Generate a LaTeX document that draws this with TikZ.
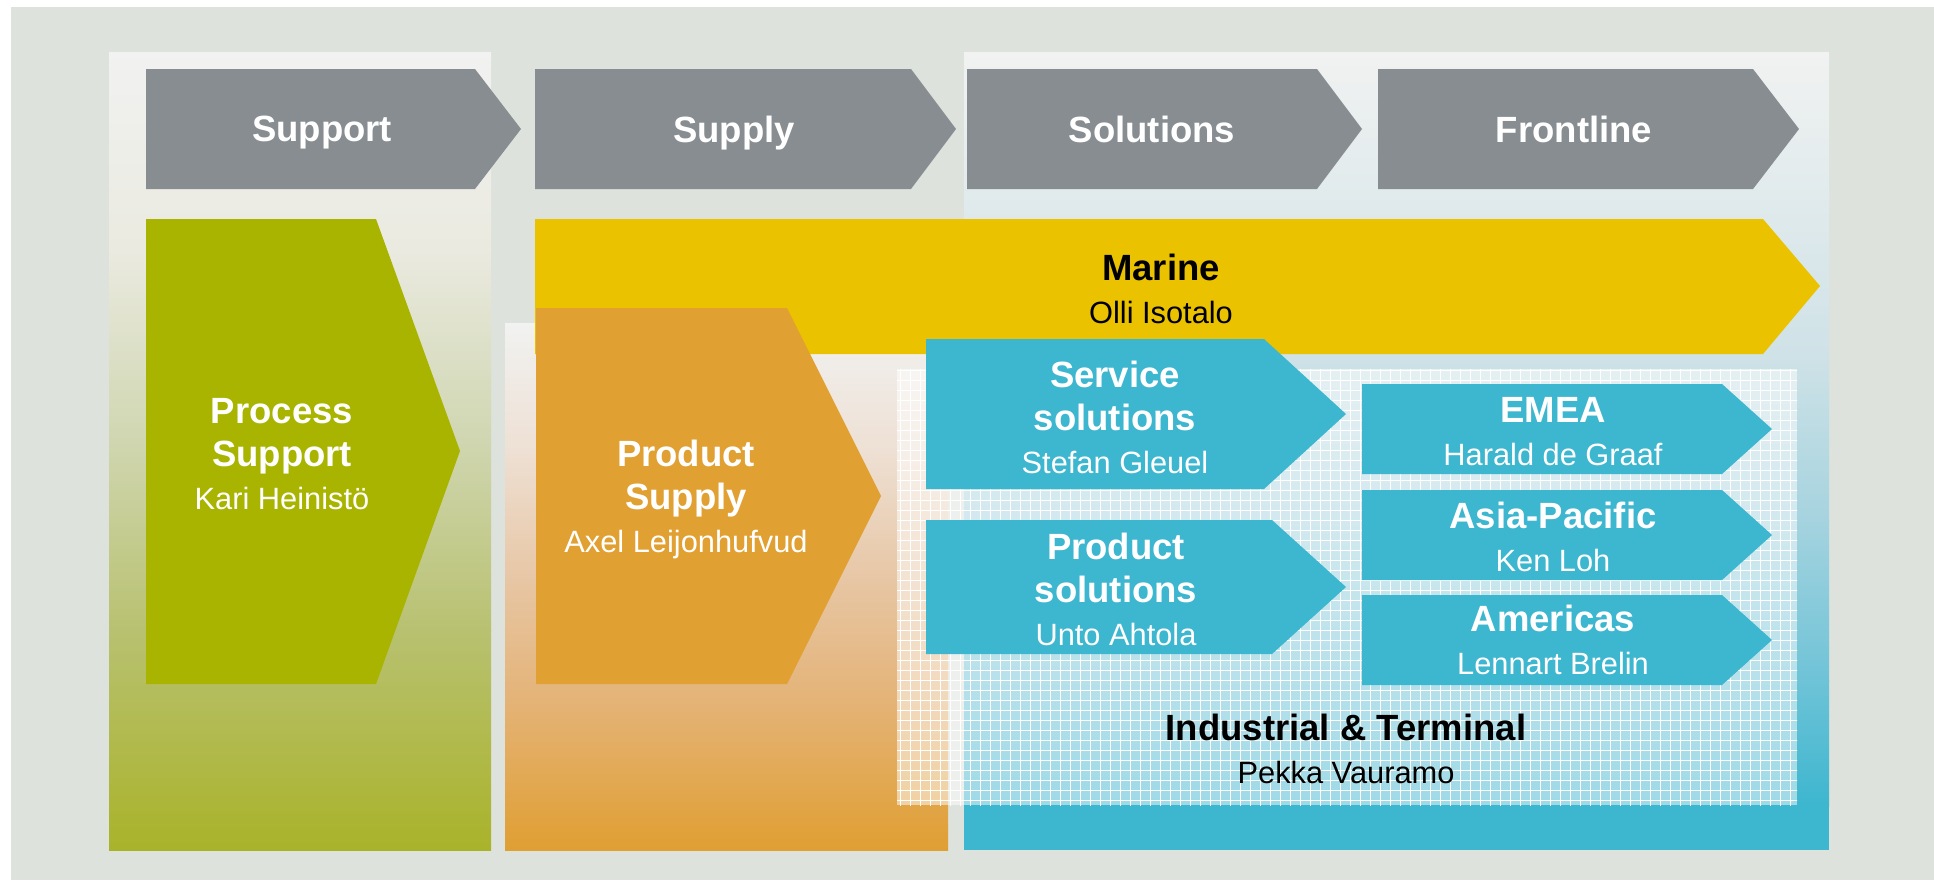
\documentclass[tikz,border=0pt]{standalone}
\usepackage{fontspec}
\setmainfont{Liberation Sans}
\usetikzlibrary{patterns}
\definecolor{bgc}{HTML}{DDE2DC}
\definecolor{chevgray}{HTML}{878D90}
\definecolor{greenc}{HTML}{A9B400}
\definecolor{orangec}{HTML}{E1A032}
\definecolor{yellowc}{HTML}{EBC200}
\definecolor{bluec}{HTML}{3DB6CF}
\definecolor{paleTop}{HTML}{F1F2F1}
\pgfdeclarepatternformonly{finegrid}{\pgfpoint{-0.5pt}{-0.5pt}}{\pgfpoint{5.5pt}{5.5pt}}{\pgfpoint{5pt}{5pt}}{%
  \pgfsetlinewidth{0.45pt}%
  \pgfpathmoveto{\pgfpoint{0pt}{0pt}}\pgfpathlineto{\pgfpoint{5pt}{0pt}}%
  \pgfpathmoveto{\pgfpoint{0pt}{0pt}}\pgfpathlineto{\pgfpoint{0pt}{5pt}}%
  \pgfusepath{stroke}}
\newcommand\headtxt[1]{{\fontsize{18.25}{21.5}\selectfont\bfseries #1}}
\tikzset{
  chevshape/.style={fill=chevgray},
  chevlabel/.style={text=white, font=\fontsize{18.25}{21.5}\selectfont\bfseries, inner sep=0pt, text depth=0pt},
  wlabel/.style={text=white, align=center, font=\fontsize{15.4}{21.5}\selectfont, inner sep=0pt},
  blabel/.style={text=black, align=center, font=\fontsize{15.4}{21.5}\selectfont, inner sep=0pt},
}
\begin{document}
\begin{tikzpicture}[x=0.5pt,y=-0.5pt]
\useasboundingbox (0,0) rectangle (1934,880);
\fill[white] (0,0) rectangle (1934,880);
\fill[bgc] (11,7) rectangle (1934,880);

% column panels (vertical gradients)
\shade[top color=paleTop, bottom color={rgb,255:red,234;green,234;blue,224}] (109,52) rectangle (491,251);
\shade[top color={rgb,255:red,234;green,234;blue,224}, bottom color={rgb,255:red,208;green,214;blue,176}] (109,250) rectangle (491,441);
\shade[top color={rgb,255:red,208;green,214;blue,176}, bottom color={rgb,255:red,184;green,193;blue,112}] (109,440) rectangle (491,631);
\shade[top color={rgb,255:red,184;green,193;blue,112}, bottom color={rgb,255:red,169;green,179;blue,42}] (109,630) rectangle (491,850);

\shade[top color=paleTop, bottom color={rgb,255:red,238;green,224;blue,212}] (505,323) rectangle (948,451);
\shade[top color={rgb,255:red,238;green,224;blue,212}, bottom color={rgb,255:red,231;green,198;blue,164}] (505,450) rectangle (948,581);
\shade[top color={rgb,255:red,231;green,198;blue,164}, bottom color={rgb,255:red,228;green,179;blue,119}] (505,580) rectangle (948,701);
\shade[top color={rgb,255:red,228;green,179;blue,119}, bottom color={rgb,255:red,224;green,159;blue,51}] (505,700) rectangle (948,850);

\shade[top color=paleTop, bottom color={rgb,255:red,207;green,226;blue,231}] (964,52) rectangle (1829,355);
\shade[top color={rgb,255:red,207;green,226;blue,231}, bottom color={rgb,255:red,165;green,211;blue,223}] (964,354) rectangle (1829,521);
\shade[top color={rgb,255:red,165;green,211;blue,223}, bottom color={rgb,255:red,110;green,195;blue,215}] (964,520) rectangle (1829,681);
\shade[top color={rgb,255:red,110;green,195;blue,215}, bottom color=bluec] (964,680) rectangle (1829,806);
\fill[bluec] (964,805) rectangle (1829,850);

% top chevrons
\fill[chevshape] (146,69) -- (475,69) -- (521,129) -- (475,189) -- (146,189) -- cycle;
\fill[chevshape] (535,69) -- (911,69) -- (956,129) -- (911,189) -- (535,189) -- cycle;
\fill[chevshape] (967,69) -- (1317,69) -- (1362,129) -- (1317,189) -- (967,189) -- cycle;
\fill[chevshape] (1378,69) -- (1753,69) -- (1799,129) -- (1753,189) -- (1378,189) -- cycle;
\node[chevlabel] (support) at (322,129) {Support};
\node[chevlabel] (supply) at (734,129) {Supply};
\node[chevlabel] (solutions) at (1152,129) {Solutions};
\node[chevlabel] (frontline) at (1574,129) {Frontline};

% process support
\fill[greenc] (146,219) -- (376,219) -- (460,451) -- (376,684) -- (146,684) -- cycle;
\node[wlabel] (process) at (282,454) {\headtxt{Process}\\\headtxt{Support}\\Kari Heinistö};

% marine
\fill[yellowc] (535,219) -- (1763,219) -- (1820,286) -- (1763,354) -- (535,354) -- cycle;
\node[blabel] (marine) at (1161,289) {\headtxt{Marine}\\Olli Isotalo};

% product supply
\fill[orangec] (536,308) -- (787,308) -- (881,496) -- (787,684) -- (536,684) -- cycle;
\node[wlabel] (prodsupply) at (686,499) {\headtxt{Product}\\\headtxt{Supply}\\Axel Leijonhufvud};

% industrial & terminal hatched area
\fill[white, fill opacity=0.5] (897,369) rectangle (1797,805);
\fill[pattern=finegrid, pattern color=white, fill opacity=0.45] (897,369) rectangle (1797,805);
\node[blabel] (industrial) at (1346,749) {\headtxt{Industrial \& Terminal}\\Pekka Vauramo};

% solutions
\fill[bluec] (926,339) -- (1264,339) -- (1346,414) -- (1264,489) -- (926,489) -- cycle;
\node[wlabel] (service) at (1115,417) {\headtxt{Service}\\\headtxt{solutions}\\Stefan Gleuel};
\fill[bluec] (926,520) -- (1272,520) -- (1346,587) -- (1272,654) -- (926,654) -- cycle;
\node[wlabel] (prodsol) at (1116,589) {\headtxt{Product}\\\headtxt{solutions}\\Unto Ahtola};

% frontline regions
\fill[bluec] (1362,384) -- (1722,384) -- (1772,429) -- (1722,474) -- (1362,474) -- cycle;
\node[wlabel] (emea) at (1553,432) {\headtxt{EMEA}\\Harald de Graaf};
\fill[bluec] (1362,490) -- (1722,490) -- (1772,535) -- (1722,580) -- (1362,580) -- cycle;
\node[wlabel] (apac) at (1553,537) {\headtxt{Asia-Pacific}\\Ken Loh};
\fill[bluec] (1362,595) -- (1722,595) -- (1772,640) -- (1722,685) -- (1362,685) -- cycle;
\node[wlabel] (americas) at (1553,640) {\headtxt{Americas}\\Lennart Brelin};
\end{tikzpicture}
\end{document}
